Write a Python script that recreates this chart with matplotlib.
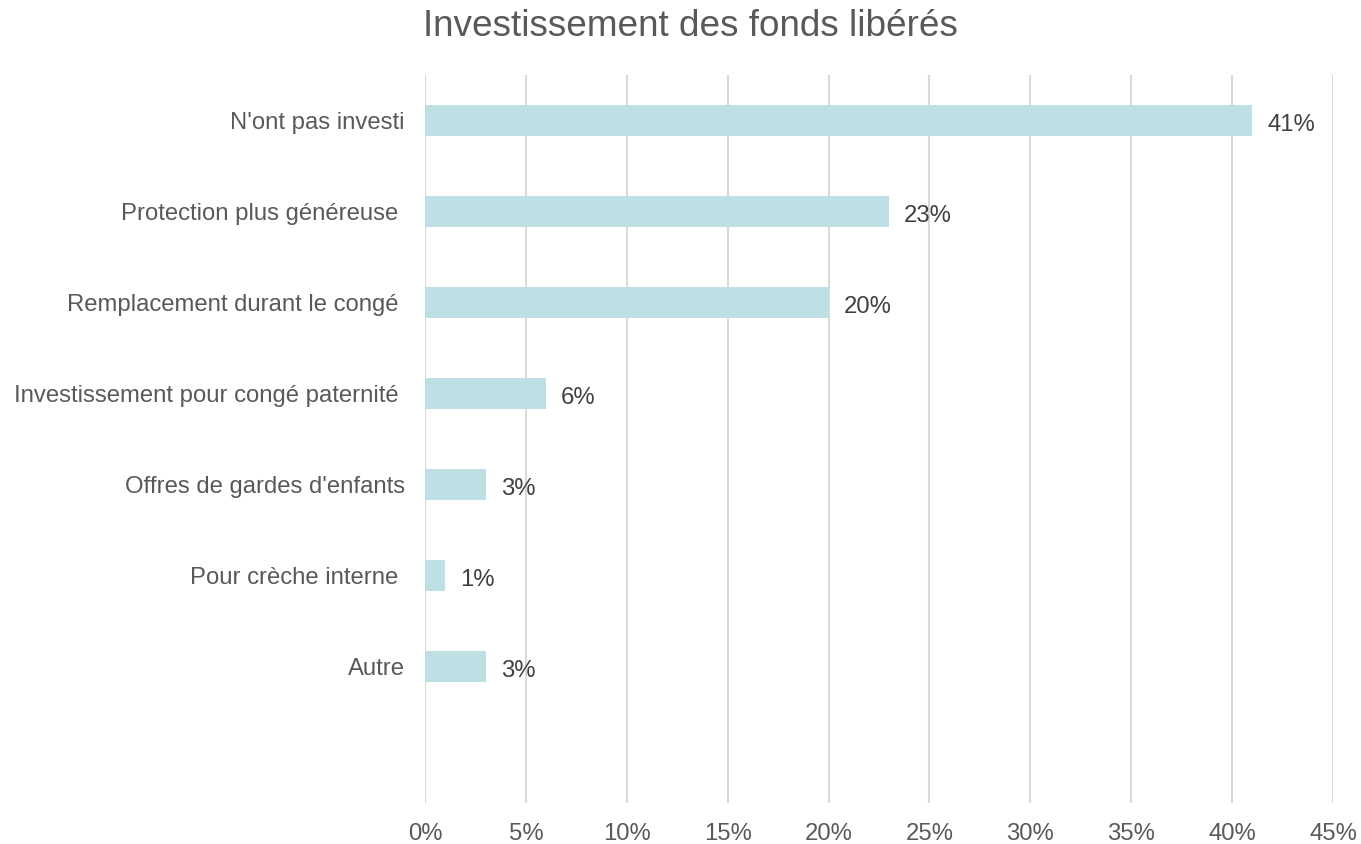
import matplotlib
matplotlib.use("Agg")
import matplotlib.pyplot as plt
from matplotlib.ticker import FuncFormatter, MultipleLocator

categories = ["N'ont pas investi", "Protection plus généreuse ", "Remplacement durant le congé ",
              "Investissement pour congé paternité ", "Offres de gardes d'enfants",
              "Pour crèche interne ", "Autre", ""]
values = [41, 23, 20, 6, 3, 1, 3, None]
title = "Investissement des fonds libérés"

plt.rcParams['font.family'] = ['Liberation Sans', 'DejaVu Sans']

fig = plt.figure(figsize=(13.61, 8.44), dpi=100)
W, H = 1361, 844
ax = fig.add_axes([425 / W, 1 - 803 / H, (1333 - 425) / W, (803 - 75) / H])

pos = list(range(len(categories)))
for p, v in zip(pos, values):
    if v is None:
        continue
    ax.barh(p, v, height=0.35, color='#BCE0E3', zorder=3)
    ax.text(v + 0.75, p + 0.02, f"{v}%", va='center_baseline', ha='left', fontsize=17.2, color='#404040')

ax.set_xlim(0, 45)
ax.set_ylim(len(categories) - 0.5, -0.5)
ax.set_yticks(pos)
ax.set_yticklabels(categories)
ax.xaxis.set_major_locator(MultipleLocator(5))
ax.xaxis.set_major_formatter(FuncFormatter(lambda x, _: f"{int(round(x))}%"))
ax.grid(axis='x', color='#D9D9D9', linewidth=1.5, zorder=0)
ax.set_axisbelow(True)
for s in ax.spines.values():
    s.set_visible(False)
ax.tick_params(axis='both', length=0, labelsize=17.2, labelcolor='#595959')
ax.tick_params(axis='y', pad=14.5)
ax.tick_params(axis='x', pad=14.5)

fig.text(690 / W, 1 - 26 / H, title, ha='center', va='center', fontsize=26.6, color='#595959')

fig.savefig("out.png", dpi=100)
